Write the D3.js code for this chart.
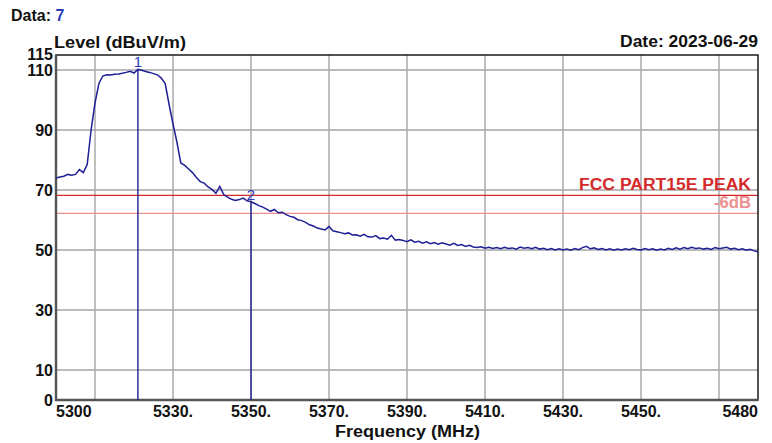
<!DOCTYPE html>
<html>
<head>
<meta charset="utf-8">
<script src="https://cdn.jsdelivr.net/npm/d3@7"></script>
<style>
  body { margin: 0; background: #fff; }
  text { font-family: "Liberation Sans", Arial, sans-serif; }
</style>
</head>
<body>
<div id="root"></div>
<script>
const width = 772;
const height = 443;

// trace, 1 MHz steps starting at 5300 MHz
const startFreq = 5300;
const stepMHz = 1;
const levels = [
    74.0, 74.3, 74.6, 75.2, 74.9, 75.2, 76.8, 75.8, 78.5, 90.0,
    99.0, 105.5, 108.0, 108.4, 108.3, 108.6, 108.7, 108.9, 109.2, 109.6,
    109.0, 110.2, 109.9, 109.5, 109.2, 108.8, 108.4, 107.3, 105.5, 98.5,
    92.0, 86.0, 79.0, 78.2, 77.0, 75.8, 74.2, 72.8, 72.3, 71.0,
    70.2, 68.9, 71.2, 68.5, 67.6, 66.9, 66.5, 66.8, 67.3, 66.4,
    66.1, 65.5, 64.8, 64.3, 63.6, 62.9, 63.5, 62.4, 62.6, 61.8,
    61.2, 60.9, 60.1, 59.8, 59.2, 58.4, 58.0, 57.3, 57.0, 56.7,
    57.8, 56.4, 56.1, 55.8, 55.4, 55.7, 55.0, 55.1, 54.6, 55.2,
    54.4, 54.3, 54.8, 53.8, 54.0, 53.6, 54.9, 53.3, 53.5, 53.2,
    52.8, 53.4, 52.6, 52.9, 52.3, 52.7, 52.1, 52.5, 51.9, 52.4,
    52.0, 51.6, 52.2, 51.5, 51.8, 51.2, 51.6, 51.0, 50.8, 51.1,
    50.6, 50.9, 50.5, 50.8, 50.4, 50.9, 50.5, 50.7, 50.3, 51.0,
    50.6, 50.8, 50.4, 50.9, 50.3, 50.6, 50.1, 50.5, 50.0, 50.4,
    50.0, 50.3, 49.9, 50.5, 50.1, 50.8, 51.2, 50.4, 50.7, 50.2,
    50.5, 50.0, 50.4, 49.9, 50.3, 50.0, 50.4, 50.1, 50.6, 50.2,
    50.0, 50.5, 50.1, 50.4, 49.9, 50.3, 50.0, 50.6, 50.2, 50.7,
    50.3, 50.8, 50.4, 50.9, 50.5, 50.7, 50.3, 50.6, 50.2, 50.8,
    50.4, 50.7, 50.9, 50.3, 50.6, 50.1, 50.4, 49.9, 50.2, 49.7,
    49.4
];

const markerLabels = ["1", "2"];
const markerFreqs = [5321, 5350];

const limitNames = ["FCC PART15E PEAK", "-6dB"];
const limitLevels = [68.2, 62.2];
const limitColors = ["#d42a2a", "#eb9090"];

const xGridValues = [5310, 5330, 5350, 5370, 5390, 5410, 5430, 5450, 5470];
const xTickValues = [5300, 5330, 5350, 5370, 5390, 5410, 5430, 5450, 5480];
const xTickLabels = ["5300", "5330.", "5350.", "5370.", "5390.", "5410.", "5430.", "5450.", "5480"];
const yGridValues = [10, 30, 50, 70, 90, 110];
const yTickValues = [0, 10, 30, 50, 70, 90, 110, 115];

const traceColor = "#1f1f96";
const textColor = "#111";

const svg = d3.select("#root")
    .append("svg")
    .attr("width", width)
    .attr("height", height);

const x = d3.scaleLinear().domain([5300, 5480]).range([56, 758]);
const y = d3.scaleLinear().domain([0, 115]).range([400, 55]);

const trace = levels.map((v, i) => ({ f: startFreq + i * stepMHz, v }));

// grid
svg.append("g")
    .selectAll("line")
    .data(xGridValues)
    .join("line")
    .attr("x1", d => x(d)).attr("x2", d => x(d))
    .attr("y1", y(115)).attr("y2", y(0))
    .attr("stroke", "#a4a4a4")
    .attr("stroke-width", 1.4);

svg.append("g")
    .selectAll("line")
    .data(yGridValues)
    .join("line")
    .attr("x1", x(5300)).attr("x2", x(5480))
    .attr("y1", d => y(d)).attr("y2", d => y(d))
    .attr("stroke", "#a4a4a4")
    .attr("stroke-width", 1.4);

// limit lines
svg.append("g")
    .selectAll("line")
    .data(limitLevels)
    .join("line")
    .attr("x1", x(5300)).attr("x2", x(5480))
    .attr("y1", d => y(d)).attr("y2", d => y(d))
    .attr("stroke", (d, i) => limitColors[i])
    .attr("stroke-width", 1.4);

svg.append("g")
    .selectAll("text")
    .data(limitNames)
    .join("text")
    .attr("x", 751)
    .attr("y", (d, i) => y(limitLevels[i]) - 5)
    .attr("text-anchor", "end")
    .attr("font-size", 16)
    .attr("font-weight", "bold")
    .attr("fill", (d, i) => limitColors[i])
    .attr("textLength", (d, i) => i === 0 ? 172 : 37)
    .attr("lengthAdjust", "spacingAndGlyphs")
    .text(d => d);

// frame
svg.append("rect")
    .attr("x", x(5300)).attr("y", y(115))
    .attr("width", x(5480) - x(5300))
    .attr("height", y(0) - y(115))
    .attr("fill", "none")
    .attr("stroke", "#1a1a1a")
    .attr("stroke-width", 1.5);

svg.append("path")
    .attr("d", `M${x(5300)},${y(115)}V${y(0)}H${x(5480)}`)
    .attr("fill", "none")
    .attr("stroke", "#555")
    .attr("stroke-width", 2.4);

// markers
const markers = markerFreqs.map((f, i) => ({
    f, label: markerLabels[i], v: levels[(f - startFreq) / stepMHz]
}));

svg.append("g")
    .selectAll("line")
    .data(markers)
    .join("line")
    .attr("x1", d => x(d.f)).attr("x2", d => x(d.f))
    .attr("y1", d => y(d.v)).attr("y2", y(0))
    .attr("stroke", traceColor)
    .attr("stroke-width", 1.4);

svg.append("g")
    .selectAll("text")
    .data(markers)
    .join("text")
    .attr("x", d => x(d.f))
    .attr("y", d => y(d.v) - 2)
    .attr("text-anchor", "middle")
    .attr("font-size", 15)
    .attr("fill", "#2a3cb8")
    .text(d => d.label);

// trace
const line = d3.line()
    .x(d => x(d.f))
    .y(d => y(d.v));

svg.append("path")
    .datum(trace)
    .attr("d", line)
    .attr("fill", "none")
    .attr("stroke", traceColor)
    .attr("stroke-width", 1.5)
    .attr("stroke-linejoin", "miter");

// axes labels
svg.append("g")
    .selectAll("text")
    .data(yTickValues)
    .join("text")
    .attr("x", 53)
    .attr("y", d => y(d) + (d === 115 ? -1 : 0))
    .attr("dy", "0.36em")
    .attr("text-anchor", "end")
    .attr("font-size", 16)
    .attr("font-weight", "bold")
    .attr("fill", textColor)
    .text(d => d);

svg.append("g")
    .selectAll("text")
    .data(xTickValues)
    .join("text")
    .attr("x", d => x(d))
    .attr("y", 417)
    .attr("text-anchor", (d, i) => i === 0 ? "start" : (i === xTickValues.length - 1 ? "end" : "middle"))
    .attr("font-size", 16)
    .attr("font-weight", "bold")
    .attr("fill", textColor)
    .text((d, i) => xTickLabels[i]);

svg.append("text")
    .attr("x", 335)
    .attr("y", 437)
    .attr("font-size", 16)
    .attr("font-weight", "bold")
    .attr("fill", textColor)
    .attr("textLength", 145)
    .attr("lengthAdjust", "spacingAndGlyphs")
    .text("Frequency (MHz)");

svg.append("text")
    .attr("x", 54)
    .attr("y", 48)
    .attr("font-size", 16)
    .attr("font-weight", "bold")
    .attr("fill", textColor)
    .attr("textLength", 132)
    .attr("lengthAdjust", "spacingAndGlyphs")
    .text("Level (dBuV/m)");

svg.append("text")
    .attr("x", 620)
    .attr("y", 47)
    .attr("font-size", 16)
    .attr("font-weight", "bold")
    .attr("fill", textColor)
    .attr("textLength", 138)
    .attr("lengthAdjust", "spacingAndGlyphs")
    .text("Date: 2023-06-29");

const dataTitle = svg.append("text")
    .attr("x", 11)
    .attr("y", 21)
    .attr("font-size", 16)
    .attr("font-weight", "bold")
    .attr("fill", textColor);
dataTitle.append("tspan").text("Data: ");
dataTitle.append("tspan").attr("fill", "#2a3cb8").text("7");
</script>
</body>
</html>
